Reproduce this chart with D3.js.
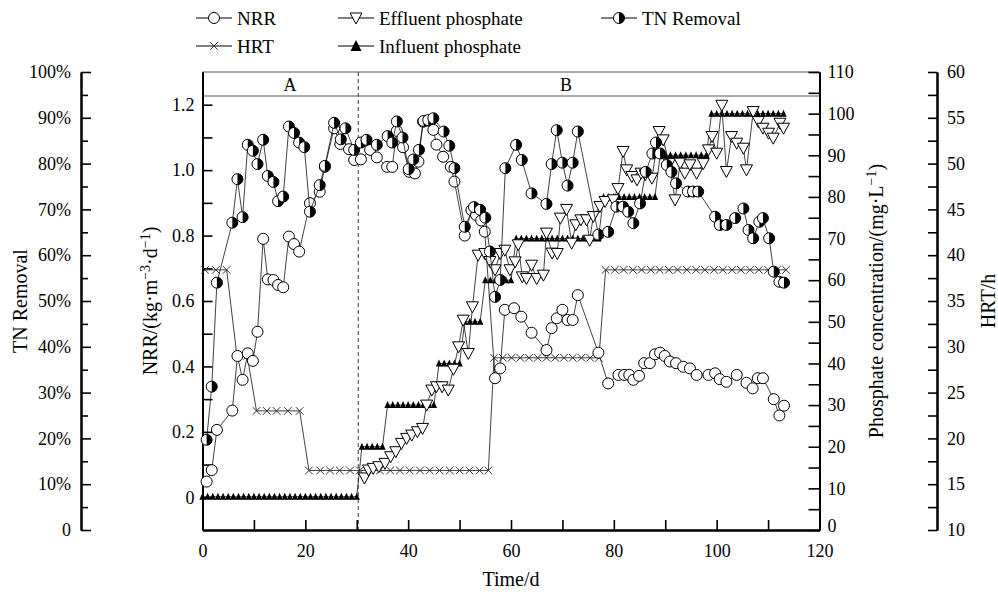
<!DOCTYPE html>
<html>
<head>
<meta charset="utf-8">
<script src="https://cdn.jsdelivr.net/npm/d3@7/dist/d3.min.js"></script>
<style>
  body { margin: 0; background: #fff; }
  svg text { font-family: "Liberation Serif", "Times New Roman", serif; fill: #000; }
</style>
</head>
<body>
<div id="viz"></div>
<script>
(function() {
  var width = 998, height = 592;
  var left = 202.5, right = 819.5, top = 72, bottom = 530;

  // NRR (kg m-3 d-1)
  var nrrDays = [0.8,1.8,2.8,5.8,6.8,7.8,8.8,9.8,10.7,11.8,12.7,13.8,14.7,15.7,16.8,17.8,18.8,20.9,22.8,23.8,
    25.6,26.8,28.5,29.5,30.8,32.6,33.9,35.9,36.9,37.8,39,40.2,41.3,42,42.9,43.9,44.9,45.5,46.8,48.3,
    49,51,52.3,53.2,54.2,54.9,56.9,57.9,58.8,60.6,62,64,66.9,67.9,68.9,70,71,72,73,77,
    78.9,80.9,82,83,83.8,84.9,85.9,87,88,89,89.9,90.9,92.1,93.5,94.8,96.1,98.4,99.7,100.6,101.9,
    103.9,105.8,107,108,109,111.1,112.2,113.1];
  var nrrVals = [0.048,0.083,0.206,0.265,0.432,0.359,0.44,0.417,0.506,0.79,0.666,0.664,0.649,0.642,0.797,0.774,0.751,0.899,0.934,1.01,
    1.128,1.08,1.064,1.031,1.033,1.062,1.039,1.01,1.01,1.12,1.07,0.995,0.99,1.026,1.148,1.151,1.123,1.078,1.041,1.01,
    0.965,0.80,0.878,0.863,0.846,0.812,0.364,0.394,0.573,0.578,0.552,0.503,0.45,0.517,0.547,0.573,0.542,0.542,0.618,0.442,
    0.348,0.374,0.374,0.374,0.359,0.371,0.41,0.41,0.437,0.442,0.432,0.415,0.41,0.399,0.394,0.374,0.374,0.379,0.361,0.353,
    0.374,0.35,0.333,0.364,0.364,0.3,0.25,0.28];

  // TN removal (%)
  var tnDays = [0.8,1.8,2.8,5.8,6.8,7.8,8.8,9.8,10.7,11.8,12.7,13.8,14.7,15.7,16.8,17.8,18.8,19.8,20.9,22.8,
    23.8,25.6,26.9,27.8,29.5,30.8,31.9,33.9,36,36.9,37.8,38.9,40.1,41,42.1,43,43.9,44.9,46.9,48,
    49,51,52.8,54,55,55.9,56.9,57.9,58.9,61,62.1,64,66.9,67.9,68.9,70,71,72,73,77,
    78.9,80.5,81.8,82.8,83.8,85.1,86.2,87.5,88.2,89,90.3,91.2,92.1,94.4,95.4,96.4,99.7,100.6,101.9,103.6,
    105.2,106.2,107.1,108.3,109,110.2,111.1,112.2,113.1];
  var tnVals = [19.7,31.3,54,67.1,76.6,68.3,84.1,82.8,79.9,85.2,77.3,76,71.8,72.8,88.1,86.7,84.6,83.6,69.5,75.3,
    79.5,88.9,85.3,87.7,83,84.6,85.2,84.1,86,84.6,89.2,85.7,78.8,80.9,83,89.3,89.5,89.9,87,83.9,
    79,66.2,70.5,69.9,68.2,60.8,50.9,54.6,79,84.1,80.8,73.5,71.2,79.9,87.3,80.2,75.2,80.2,87,64.5,
    65.1,70.6,70.6,69.5,67,71.3,78.2,82.2,84.6,82.2,79.7,78.2,75.7,73.9,73.9,73.9,68.4,66.6,66.6,68.1,
    70.2,65.5,63.7,67.3,68.1,63.7,56.4,54.2,54];

  // effluent phosphate (mg/L)
  var effDays = [31.5,32.3,33.2,34.3,35.5,36.6,37.6,38.7,39.7,40.7,41.8,42.8,43.6,44.6,45.5,46.6,47.8,48.8,49.8,50.7,
    51.7,52.5,53.6,54.9,55.9,56.9,57.9,58.8,59.8,60.8,61.4,62.2,63,64,65,66.3,66.9,68,69,69.6,
    70.8,71.8,72.6,73.6,74.7,75.3,76,77.3,78.3,79.9,80.8,81.8,82.5,83.5,84.5,85.3,86.1,87.4,88.8,89.6,
    90.8,91.9,92.9,93.8,94.8,96.1,97.4,98.4,99.1,100,101,101.9,102.9,103.9,105.2,105.8,107.1,108.1,109,110.1,
    111,112.3,113];
  var effVals = [12.5,14.4,14.8,15.2,16,17.6,18.8,20.8,22,22.8,23.6,24.4,30,33.6,34.4,34.4,33.6,38.6,44,50.4,
    42.4,53.6,66,66.4,64.5,62.5,66.4,67.2,62.5,64.4,68.5,60.8,60.4,63.6,60.4,61.2,71.3,66.5,66.4,74.9,
    77,68.9,73.3,74.5,74.5,69.6,75.3,77.7,78.9,79.3,82,90.9,86.5,84.9,84.1,85.7,85.3,84.5,95.7,93.7,
    88,79.3,88.1,85.7,87.7,85.7,88,91.3,94.5,90.5,102,86.1,94.5,92.9,91.7,86.5,100.5,98.1,96.5,95.3,
    94.1,97.7,96.5];

  // influent phosphate (mg/L), one value per day 0..113
  var infDays = d3.range(0, 114);
  var infVals = [8,8,8,8,8,8,8,8,8,8,8,8,8,8,8,8,8,8,8,8,8,8,8,8,8,8,8,8,8,8,8,
    20,20,20,20,20,
    30,30,30,30,30,30,30,30,30,30,
    40,40,40,40,40,
    50,50,50,50,
    60,60,60,60,60,60,
    70,70,70,70,70,70,70,70,70,70,70,70,70,70,70,70,70,
    80,80,80,80,80,80,80,80,80,80,80,
    90,90,90,90,90,90,90,90,90,90,
    100,100,100,100,100,100,100,100,100,100,100,100,100,100,100];

  // HRT (h)
  var hrtDays = [0.5,2.6,4.7,6.7,8.7,10.5,12.5,14.4,16.6,18.9,
    20.7,22.9,24.8,26.7,28.7,30.6,32.6,34.5,36.5,38.4,40.3,42.3,44.2,46.1,48.1,50,51.9,53.9,55.6,
    56.7,58.4,60.1,61.8,63.5,65.2,66.9,68.6,70.3,72,73.7,75.4,77.1,
    78.4,80.2,81.9,83.7,85.4,87.2,88.9,90.7,92.4,94.2,96,97.7,99.5,101.2,103,104.7,106.5,108.2,110,111.7,113.5];
  var hrtVals = [38.4,38.4,38.4,29,29,23,23,23,23,23,
    16.5,16.5,16.5,16.5,16.5,16.5,16.5,16.5,16.5,16.5,16.5,16.5,16.5,16.5,16.5,16.5,16.5,16.5,16.5,
    28.8,28.8,28.8,28.8,28.8,28.8,28.8,28.8,28.8,28.8,28.8,28.8,28.8,
    38.4,38.4,38.4,38.4,38.4,38.4,38.4,38.4,38.4,38.4,38.4,38.4,38.4,38.4,38.4,38.4,38.4,38.4,38.4,38.4,38.4];

  var stageNames = ["A", "B"];
  var stageLabelDays = [17, 70.7];
  var stageSplitDay = 30.3;

  var xTicks = [0, 20, 40, 60, 80, 100, 120];
  var nrrTicks = [0, 0.2, 0.4, 0.6, 0.8, 1.0, 1.2];
  var tnTicks = [0, 10, 20, 30, 40, 50, 60, 70, 80, 90, 100];
  var pTicks = [0, 10, 20, 30, 40, 50, 60, 70, 80, 90, 100, 110];
  var hrtTicks = [10, 15, 20, 25, 30, 35, 40, 45, 50, 55, 60];

  var x = d3.scaleLinear().domain([0, 120]).range([left, right]);
  var yNRR = d3.scaleLinear().domain([-0.1, 1.3]).range([bottom, top]);
  var yTN = d3.scaleLinear().domain([0, 100]).range([bottom, top]);
  var yP = d3.scaleLinear().domain([0, 110]).range([bottom, top]);
  var yH = d3.scaleLinear().domain([10, 60]).range([bottom, top]);

  var svg = d3.select("#viz").append("svg")
    .attr("width", width).attr("height", height);

  var fontFam = '"Liberation Serif", "Times New Roman", serif';
  var tickFont = 18, titleFont = 20, legendFont = 19;

  var styleAxis = function(g) {
    g.attr("font-family", fontFam).attr("font-size", tickFont);
    g.select(".domain").attr("stroke", "#000").attr("stroke-width", 2);
    g.selectAll(".tick line").attr("stroke", "#000").attr("stroke-width", 1.6);
    g.selectAll(".tick text").attr("fill", "#000");
  };

  var minorBetween = function(ticks) {
    var out = [];
    for (var i = 0; i < ticks.length - 1; i++) out.push((ticks[i] + ticks[i + 1]) / 2);
    return out;
  };

  // top frame and stage band
  svg.append("line").attr("x1", left).attr("x2", right).attr("y1", top).attr("y2", top)
    .attr("stroke", "#555").attr("stroke-width", 1);
  svg.append("line").attr("x1", left).attr("x2", right).attr("y1", top + 24).attr("y2", top + 24)
    .attr("stroke", "#555").attr("stroke-width", 1);
  svg.append("line").attr("x1", x(stageSplitDay)).attr("x2", x(stageSplitDay))
    .attr("y1", top).attr("y2", bottom)
    .attr("stroke", "#666").attr("stroke-width", 1.3).attr("stroke-dasharray", "4,3");
  svg.selectAll("text.stage").data(stageNames).enter().append("text")
    .attr("class", "stage")
    .attr("x", function(d, i) { return x(stageLabelDays[i]); })
    .attr("y", top + 19)
    .attr("text-anchor", "middle").attr("font-size", tickFont)
    .text(function(d) { return d; });

  // x axis
  svg.append("g").attr("transform", "translate(0," + bottom + ")")
    .call(d3.axisBottom(x).tickValues(xTicks).tickSize(-10).tickSizeOuter(0).tickPadding(14))
    .call(styleAxis);
  svg.append("g").attr("transform", "translate(0," + bottom + ")")
    .call(d3.axisBottom(x).tickValues(minorBetween(xTicks)).tickSize(-10).tickSizeOuter(0).tickFormat(""))
    .call(styleAxis);

  // NRR axis (plot left edge)
  svg.append("g").attr("transform", "translate(" + left + ",0)")
    .call(d3.axisLeft(yNRR).tickValues(nrrTicks).tickSize(-10).tickSizeOuter(0).tickPadding(8)
      .tickFormat(function(d) { return d === 0 ? "0" : d3.format(".1f")(d); }))
    .call(styleAxis);
  svg.append("g").attr("transform", "translate(" + left + ",0)")
    .call(d3.axisLeft(yNRR).tickValues(minorBetween(nrrTicks)).tickSize(-10).tickSizeOuter(0).tickFormat(""))
    .call(styleAxis);

  // TN axis (far left)
  svg.append("g").attr("transform", "translate(81,0)")
    .call(d3.axisLeft(yTN).tickValues(tnTicks).tickSize(-10).tickSizeOuter(0).tickPadding(10)
      .tickFormat(function(d) { return d === 0 ? "0" : d + "%"; }))
    .call(styleAxis);
  svg.append("g").attr("transform", "translate(81,0)")
    .call(d3.axisLeft(yTN).tickValues(minorBetween(tnTicks)).tickSize(-7).tickSizeOuter(0).tickFormat(""))
    .call(styleAxis);

  // phosphate axis (plot right edge)
  svg.append("g").attr("transform", "translate(" + right + ",0)")
    .call(d3.axisRight(yP).tickValues(pTicks).tickSize(-11).tickSizeOuter(0).tickPadding(8))
    .call(styleAxis)
    .selectAll(".tick text").filter(function(d) { return d === 0; }).attr("dy", "0.1em");
  svg.append("g").attr("transform", "translate(" + right + ",0)")
    .call(d3.axisRight(yP).tickValues(minorBetween(pTicks)).tickSize(-11).tickSizeOuter(0).tickFormat(""))
    .call(styleAxis);

  // HRT axis (far right)
  svg.append("g").attr("transform", "translate(937,0)")
    .call(d3.axisRight(yH).tickValues(hrtTicks).tickSize(-9).tickSizeOuter(0).tickPadding(10))
    .call(styleAxis);
  svg.append("g").attr("transform", "translate(937,0)")
    .call(d3.axisRight(yH).tickValues(minorBetween(hrtTicks)).tickSize(-9).tickSizeOuter(0).tickFormat(""))
    .call(styleAxis);

  // axis titles
  svg.append("text").attr("transform", "translate(27,301) rotate(-90)")
    .attr("text-anchor", "middle").attr("font-size", titleFont).text("TN Removal");
  var nrrTitle = svg.append("text").attr("transform", "translate(157,301) rotate(-90)")
    .attr("text-anchor", "middle").attr("font-size", titleFont);
  nrrTitle.append("tspan").text("NRR/(kg\u00b7m");
  nrrTitle.append("tspan").attr("dy", -7).attr("font-size", 14).text("\u22123");
  nrrTitle.append("tspan").attr("dy", 7).text("\u00b7d");
  nrrTitle.append("tspan").attr("dy", -7).attr("font-size", 14).text("\u22121");
  nrrTitle.append("tspan").attr("dy", 7).text(")");
  var pTitle = svg.append("text").attr("transform", "translate(883,301) rotate(-90)")
    .attr("text-anchor", "middle").attr("font-size", titleFont);
  pTitle.append("tspan").text("Phosphate concentration/(mg\u00b7L");
  pTitle.append("tspan").attr("dy", -7).attr("font-size", 14).text("\u22121");
  pTitle.append("tspan").attr("dy", 7).text(")");
  svg.append("text").attr("transform", "translate(995,301) rotate(-90)")
    .attr("text-anchor", "middle").attr("font-size", titleFont).text("HRT/h");
  svg.append("text").attr("x", 511).attr("y", 586)
    .attr("text-anchor", "middle").attr("font-size", titleFont).text("Time/d");

  // marker drawers
  var drawCircle = function(g) {
    g.append("circle").attr("r", 5.5).attr("fill", "#fff").attr("stroke", "#000").attr("stroke-width", 1);
  };
  var drawHalf = function(g) {
    g.append("circle").attr("r", 5.5).attr("fill", "#fff").attr("stroke", "#000").attr("stroke-width", 1);
    g.append("path").attr("d", "M0,-5.5A5.5,5.5 0 0 1 0,5.5Z").attr("fill", "#000");
  };
  var drawDown = function(g) {
    g.append("path").attr("d", "M-6,-5L6,-5L0,6Z").attr("fill", "#fff").attr("stroke", "#000").attr("stroke-width", 1);
  };
  var drawUp = function(g) {
    g.append("path").attr("d", "M-3.2,3L3.2,3L0,-4Z").attr("fill", "#000");
  };
  var drawUpBig = function(g) {
    g.append("path").attr("d", "M-5.5,5L5.5,5L0,-6Z").attr("fill", "#000");
  };
  var drawCross = function(g) {
    g.append("path").attr("d", "M-3.8,-3.8L3.8,3.8M-3.8,3.8L3.8,-3.8")
      .attr("stroke", "#333").attr("stroke-width", 1).attr("fill", "none");
  };

  var drawSeries = function(days, vals, yScale, marker, cls) {
    var pts = days.map(function(d, i) { return [x(d), yScale(vals[i])]; });
    svg.append("path").datum(pts)
      .attr("d", d3.line())
      .attr("fill", "none").attr("stroke", "#111").attr("stroke-width", 0.8);
    svg.selectAll("g." + cls).data(pts).enter().append("g")
      .attr("class", cls)
      .attr("transform", function(p) { return "translate(" + p[0] + "," + p[1] + ")"; })
      .each(function() { marker(d3.select(this)); });
  };

  drawSeries(hrtDays, hrtVals, yH, drawCross, "hrt");
  drawSeries(infDays, infVals, yP, drawUp, "inf");
  drawSeries(effDays, effVals, yP, drawDown, "eff");
  drawSeries(nrrDays, nrrVals, yNRR, drawCircle, "nrr");
  drawSeries(tnDays, tnVals, yTN, drawHalf, "tn");

  // legend
  var legendNames = ["NRR", "Effluent phosphate", "TN Removal", "HRT", "Influent phosphate"];
  var legendMarkers = [drawCircle, drawDown, drawHalf, drawCross, drawUpBig];
  var legendX = [196, 338, 601, 196, 338];
  var legendY = [18, 18, 18, 46, 46];
  legendNames.forEach(function(name, i) {
    var g = svg.append("g").attr("transform", "translate(" + legendX[i] + "," + legendY[i] + ")");
    g.append("line").attr("x1", 0).attr("x2", 36).attr("stroke", "#000").attr("stroke-width", 1.2);
    var m = g.append("g").attr("transform", "translate(18,0)");
    legendMarkers[i](m);
    g.append("text").attr("x", 41).attr("y", 0).attr("dy", "0.35em")
      .attr("font-size", legendFont).text(name);
  });
}).call(this);
</script>
</body>
</html>
